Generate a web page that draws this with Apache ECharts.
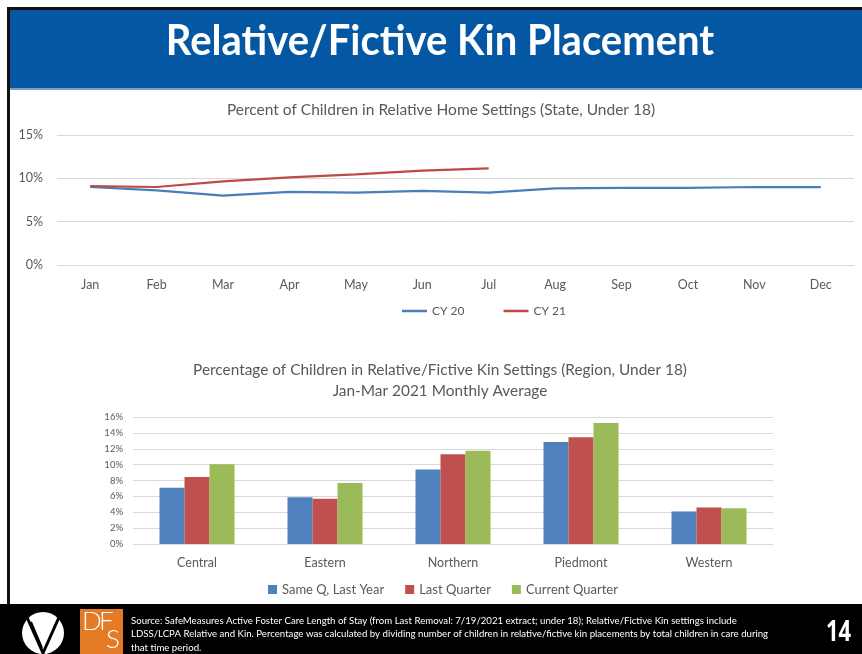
<!DOCTYPE html>
<html>
<head>
<meta charset="utf-8">
<script src="https://cdn.jsdelivr.net/npm/echarts@6/dist/echarts.min.js"></script>
<style>
  html, body { margin: 0; padding: 0; background: #fff; }
  #main { width: 862px; height: 654px; }
</style>
</head>
<body>
<div id="main"></div>
<script>
'use strict'

// top chart data (percent)
var months = ['Jan', 'Feb', 'Mar', 'Apr', 'May', 'Jun', 'Jul', 'Aug', 'Sep', 'Oct', 'Nov', 'Dec'];
var cy20 = [9.0, 8.6, 8.0, 8.45, 8.35, 8.55, 8.35, 8.85, 8.9, 8.9, 9.0, 9.0];
var cy21 = [9.1, 9.0, 9.65, 10.1, 10.45, 10.9, 11.15];

// bottom chart data (percent)
var regions = ['Central', 'Eastern', 'Northern', 'Piedmont', 'Western'];
var sameQLastYear = [7.1, 5.9, 9.4, 12.85, 4.1];
var lastQuarter = [8.45, 5.7, 11.3, 13.45, 4.6];
var currentQuarter = [10.05, 7.7, 11.75, 15.25, 4.5];

var FONT = 'Lato, "Open Sans", sans-serif';
var GREY = '#595959';

var chart = echarts.init(document.getElementById('main'));

var option = {
    animation: false,
    textStyle: { fontFamily: FONT },
    title: [
        {
            text: 'Percent of Children in Relative Home Settings (State, Under 18)',
            left: 436, top: 97, textAlign: 'center',
            textStyle: { color: GREY, fontSize: 15.5, fontWeight: 'normal', fontFamily: FONT }
        },
        {
            text: 'Percentage of Children in Relative/Fictive Kin Settings (Region, Under 18)\nJan-Mar 2021 Monthly Average',
            left: 435, top: 355, textAlign: 'center',
            textStyle: { color: GREY, fontSize: 15.4, lineHeight: 21, fontWeight: 'normal', fontFamily: FONT }
        }
    ],
    legend: [
        {
            data: ['CY 20', 'CY 21'],
            left: 402, top: 305, padding: 0,
            icon: 'rect', itemWidth: 25, itemHeight: 2.5, itemGap: 39,
            textStyle: { color: GREY, fontSize: 12 }
        },
        {
            data: ['Same Q, Last Year', 'Last Quarter', 'Current Quarter'],
            left: 268, top: 583, padding: 0,
            icon: 'rect', itemWidth: 9, itemHeight: 9, itemGap: 21,
            textStyle: { color: GREY, fontSize: 13 }
        }
    ],
    grid: [
        { left: 57, top: 135, width: 797, height: 130 },
        { left: 133, top: 417, width: 640, height: 127 }
    ],
    xAxis: [
        {
            type: 'category', gridIndex: 0, data: months,
            axisLine: { show: false }, axisTick: { show: false },
            axisLabel: { color: GREY, fontSize: 12.5, margin: 13 }
        },
        {
            type: 'category', gridIndex: 1, data: regions,
            axisLine: { show: false }, axisTick: { show: false },
            axisLabel: { color: GREY, fontSize: 12.5, margin: 12 }
        }
    ],
    yAxis: [
        {
            type: 'value', gridIndex: 0, min: 0, max: 15, interval: 5,
            axisLabel: { formatter: '{value}%', color: GREY, fontSize: 12.5, margin: 14 },
            splitLine: { lineStyle: { color: '#D9D9D9' } }
        },
        {
            type: 'value', gridIndex: 1, min: 0, max: 16, interval: 2,
            axisLabel: { formatter: '{value}%', color: GREY, fontSize: 9.5, margin: 10 },
            splitLine: { lineStyle: { color: '#D9D9D9' } }
        }
    ],
    series: [
        {
            name: 'CY 20', type: 'line', xAxisIndex: 0, yAxisIndex: 0, data: cy20,
            symbol: 'none', color: '#4A7EBB', lineStyle: { width: 2.25 }
        },
        {
            name: 'CY 21', type: 'line', xAxisIndex: 0, yAxisIndex: 0, data: cy21,
            symbol: 'none', color: '#BE4B48', lineStyle: { width: 2.25 }
        },
        {
            name: 'Same Q, Last Year', type: 'bar', xAxisIndex: 1, yAxisIndex: 1, data: sameQLastYear,
            color: '#4F81BD', barWidth: 25, barGap: 0
        },
        {
            name: 'Last Quarter', type: 'bar', xAxisIndex: 1, yAxisIndex: 1, data: lastQuarter,
            color: '#C0504D', barWidth: 25, barGap: 0
        },
        {
            name: 'Current Quarter', type: 'bar', xAxisIndex: 1, yAxisIndex: 1, data: currentQuarter,
            color: '#9BBB59', barWidth: 25, barGap: 0
        }
    ],
    graphic: [
        // frame
        { type: 'rect', shape: { x: 7, y: 7, width: 855, height: 3 }, style: { fill: '#111' } },
        { type: 'rect', shape: { x: 7, y: 7, width: 3, height: 600 }, style: { fill: '#111' } },
        // header band
        { type: 'rect', shape: { x: 10, y: 10, width: 852, height: 78 }, style: { fill: '#0457A2' } },
        { type: 'rect', shape: { x: 10, y: 88, width: 852, height: 2 }, style: { fill: '#7E9CC4' } },
        {
            type: 'text', x: 440, y: 41, scaleY: 1.07,
            style: {
                text: 'Relative/Fictive Kin Placement', fill: '#fff',
                font: 'bold 40px Lato, sans-serif', textAlign: 'center', textVerticalAlign: 'middle'
            }
        },
        // footer band
        { type: 'rect', shape: { x: 0, y: 604, width: 862, height: 50 }, style: { fill: '#000' } },
        // V logo
        { type: 'circle', shape: { cx: 43, cy: 633, r: 21 }, style: { fill: '#fff' } },
        { type: 'polyline', shape: { points: [[26, 615], [43, 653], [60, 615]] }, style: { stroke: '#000', lineWidth: 3, fill: null } },
        { type: 'line', shape: { x1: 31, y1: 622, x2: 42, y2: 648 }, style: { stroke: '#000', lineWidth: 2 } },
        // DFS logo
        { type: 'rect', shape: { x: 80, y: 609, width: 43, height: 45 }, style: { fill: '#E37A26' } },
        { type: 'text', x: 82, y: 609, style: { text: 'D', fill: '#fff', font: '300 26px Lato, sans-serif' } },
        { type: 'text', x: 99, y: 609, style: { text: 'F', fill: '#fff', font: '300 26px Lato, sans-serif' } },
        { type: 'text', x: 106, y: 627, style: { text: 'S', fill: '#fff', font: '300 26px Lato, sans-serif' } },
        // source note
        {
            type: 'text', x: 131, y: 614, scaleX: 1.07,
            style: {
                text: 'Source: SafeMeasures Active Foster Care Length of Stay (from Last Removal: 7/19/2021 extract; under 18); Relative/Fictive Kin settings include\n' +
                    'LDSS/LCPA Relative and Kin. Percentage was calculated by dividing number of children in relative/fictive kin placements by total children in care during\n' +
                    'that time period.',
                fill: '#fff', font: '9px Lato, sans-serif', lineHeight: 13.5
            }
        },
        // page number
        {
            type: 'text', x: 826, y: 633, scaleY: 1.3,
            style: { text: '14', fill: '#fff', font: 'bold 22px "Open Sans", sans-serif', textVerticalAlign: 'middle' }
        }
    ]
};

chart.setOption(option);
</script>
</body>
</html>
